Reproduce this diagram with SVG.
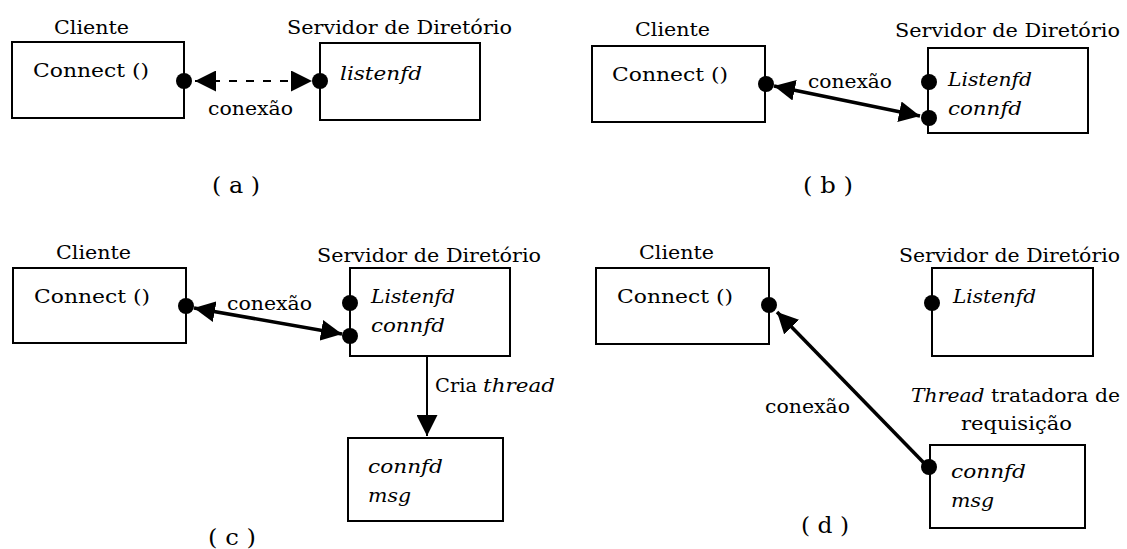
<svg xmlns="http://www.w3.org/2000/svg" width="1127" height="549" viewBox="0 0 1127 549">
<style>
text{font-family:"DejaVu Serif","Liberation Serif",serif;font-size:19px;fill:#000}
.it{font-style:italic}
.lbl{font-size:22px}
.box{fill:#fff;stroke:#000;stroke-width:2}
.dot{fill:#000}
.dash{stroke:#000;stroke-width:2;fill:none;stroke-dasharray:8 9}
.con{stroke:#000;stroke-width:3.5;fill:none}
.thin{stroke:#000;stroke-width:2;fill:none}
</style>
<defs>
<marker id="ah" viewBox="0 0 20 20" refX="20" refY="10" markerWidth="21" markerHeight="21" markerUnits="userSpaceOnUse" orient="auto-start-reverse">
<path d="M0,0 L20,10 L0,20 z" fill="#000"/>
</marker>
</defs>

<!-- Panel (a) -->
<g id="a-cliente">
<text x="54" y="34" textLength="75" lengthAdjust="spacingAndGlyphs">Cliente</text>
<rect class="box" x="12" y="42" width="172" height="76"/>
<text x="33" y="77" textLength="116" lengthAdjust="spacingAndGlyphs">Connect ()</text>
<circle class="dot" cx="184" cy="81" r="8"/>
</g>
<g id="a-servidor">
<text x="287" y="34" textLength="225" lengthAdjust="spacingAndGlyphs">Servidor de Diretório</text>
<rect class="box" x="320" y="43" width="160" height="77"/>
<text class="it" x="340" y="80" textLength="82" lengthAdjust="spacingAndGlyphs">listenfd</text>
<circle class="dot" cx="320" cy="81" r="8"/>
</g>
<text id="a-label" class="lbl" x="212" y="193" textLength="48" lengthAdjust="spacingAndGlyphs">( a )</text>

<!-- Panel (b) -->
<g id="b-cliente">
<text x="635" y="36" textLength="75" lengthAdjust="spacingAndGlyphs">Cliente</text>
<rect class="box" x="592" y="46" width="173" height="76"/>
<text x="612" y="81" textLength="116" lengthAdjust="spacingAndGlyphs">Connect ()</text>
<circle class="dot" cx="766" cy="84" r="8"/>
</g>
<g id="b-servidor">
<text x="895" y="37" textLength="225" lengthAdjust="spacingAndGlyphs">Servidor de Diretório</text>
<rect class="box" x="928" y="48" width="160" height="85"/>
<text class="it" x="948" y="86" textLength="84" lengthAdjust="spacingAndGlyphs">Listenfd</text>
<text class="it" x="948" y="115" textLength="74" lengthAdjust="spacingAndGlyphs">connfd</text>
<circle class="dot" cx="929" cy="82" r="8"/>
<circle class="dot" cx="929" cy="118" r="8"/>
</g>
<text id="b-label" class="lbl" x="803" y="193" textLength="50" lengthAdjust="spacingAndGlyphs">( b )</text>

<!-- Panel (c) -->
<g id="c-cliente">
<text x="56" y="259" textLength="75" lengthAdjust="spacingAndGlyphs">Cliente</text>
<rect class="box" x="13" y="268" width="173" height="75"/>
<text x="34" y="303" textLength="116" lengthAdjust="spacingAndGlyphs">Connect ()</text>
<circle class="dot" cx="186" cy="306" r="8"/>
</g>
<g id="c-servidor">
<text x="317" y="262" textLength="224" lengthAdjust="spacingAndGlyphs">Servidor de Diretório</text>
<rect class="box" x="350" y="268" width="160" height="88"/>
<text class="it" x="371" y="303" textLength="84" lengthAdjust="spacingAndGlyphs">Listenfd</text>
<text class="it" x="371" y="332" textLength="74" lengthAdjust="spacingAndGlyphs">connfd</text>
<circle class="dot" cx="350" cy="303" r="8"/>
<circle class="dot" cx="350" cy="336" r="8"/>
</g>
<g id="c-thread">
<rect class="box" x="348" y="438" width="155" height="83"/>
<text class="it" x="368" y="473" textLength="75" lengthAdjust="spacingAndGlyphs">connfd</text>
<text class="it" x="368" y="502" textLength="43" lengthAdjust="spacingAndGlyphs">msg</text>
</g>
<text id="c-label" class="lbl" x="208" y="545" textLength="48" lengthAdjust="spacingAndGlyphs">( c )</text>

<!-- Panel (d) -->
<g id="d-cliente">
<text x="639" y="259" textLength="75" lengthAdjust="spacingAndGlyphs">Cliente</text>
<rect class="box" x="596" y="268" width="173" height="76"/>
<text x="617" y="303" textLength="116" lengthAdjust="spacingAndGlyphs">Connect ()</text>
<circle class="dot" cx="769" cy="305" r="8"/>
</g>
<g id="d-servidor">
<text x="899" y="262" textLength="221" lengthAdjust="spacingAndGlyphs">Servidor de Diretório</text>
<rect class="box" x="932" y="268" width="161" height="88"/>
<text class="it" x="953" y="303" textLength="83" lengthAdjust="spacingAndGlyphs">Listenfd</text>
<circle class="dot" cx="932" cy="303" r="8"/>
</g>
<g id="d-thread">
<text x="911" y="402" textLength="209" lengthAdjust="spacingAndGlyphs"><tspan class="it">Thread</tspan> tratadora de</text>
<text x="961" y="430" textLength="111" lengthAdjust="spacingAndGlyphs">requisição</text>
<rect class="box" x="930" y="445" width="155" height="83"/>
<text class="it" x="951" y="478" textLength="75" lengthAdjust="spacingAndGlyphs">connfd</text>
<text class="it" x="951" y="507" textLength="43" lengthAdjust="spacingAndGlyphs">msg</text>
<circle class="dot" cx="929" cy="467" r="8"/>
</g>
<text id="d-label" class="lbl" x="801" y="533" textLength="48" lengthAdjust="spacingAndGlyphs">( d )</text>

<!-- Connectors -->
<g id="connectors">
<line class="dash" x1="195" y1="81" x2="312" y2="81" marker-start="url(#ah)" marker-end="url(#ah)"/>
<text x="208" y="115" textLength="85" lengthAdjust="spacingAndGlyphs">conexão</text>

<line class="con" x1="774" y1="86" x2="920" y2="116" marker-start="url(#ah)" marker-end="url(#ah)"/>
<text x="808" y="88" textLength="84" lengthAdjust="spacingAndGlyphs">conexão</text>

<line class="con" x1="194" y1="308" x2="342" y2="334" marker-start="url(#ah)" marker-end="url(#ah)"/>
<text x="227" y="310" textLength="85" lengthAdjust="spacingAndGlyphs">conexão</text>

<line class="thin" x1="427" y1="356" x2="427" y2="436" marker-end="url(#ah)"/>
<text x="435" y="392" textLength="42" lengthAdjust="spacingAndGlyphs">Cria</text>
<text class="it" x="483" y="392" textLength="72" lengthAdjust="spacingAndGlyphs">thread</text>

<line class="con" x1="924" y1="463" x2="777" y2="312" marker-end="url(#ah)"/>
<text x="765" y="413" textLength="85" lengthAdjust="spacingAndGlyphs">conexão</text>
</g>
</svg>
